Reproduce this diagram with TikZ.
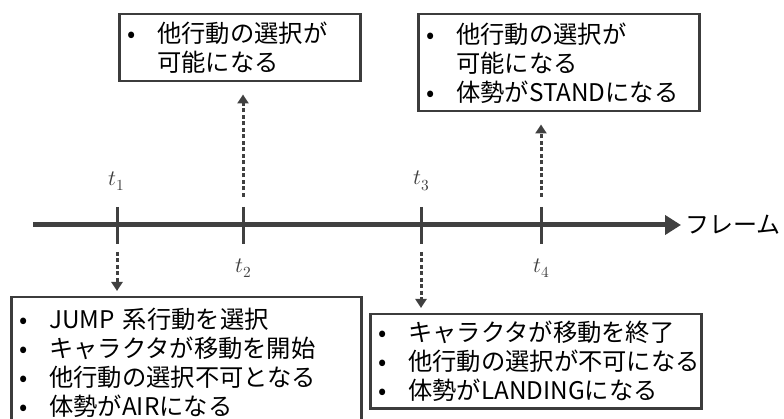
\documentclass[tikz,border=0pt]{standalone}
\usepackage{fontspec}
\usepackage{unicode-math}
\setmainfont{Noto Sans CJK JP}
\setmathfont{Latin Modern Math}
\usetikzlibrary{arrows.meta}
\definecolor{axisc}{HTML}{404040}
\definecolor{boxc}{HTML}{3C3C3C}
\newcommand{\bul}{\makebox[30pt][l]{•}}
\newcommand{\ind}{\hspace*{30pt}}
\begin{document}
\begin{tikzpicture}[x=1pt,y=-1pt,
  box/.style={draw=boxc, line width=2.5pt, anchor=north west, inner xsep=8pt, inner ysep=0pt,
    align=left, font=\fontsize{24.3}{29}\selectfont},
  tick/.style={draw=axisc, line width=3pt},
  dotarrow/.style={draw=axisc, line width=3pt, dash pattern=on 4pt off 2.5pt,
    -{Triangle[length=9pt,width=11pt]}},
  tlab/.style={font=\fontsize{22}{24}\selectfont, text=axisc, inner sep=0pt}]
\useasboundingbox (0,0) rectangle (784,419);
% axis
\coordinate (a0) at (33,225);
\coordinate (a1) at (681,225);
\draw[draw=axisc, line width=5pt, -{Triangle[length=16pt,width=19pt]}] (a0) -- (a1);
\node[anchor=west, font=\fontsize{24}{28}\selectfont, inner sep=0pt] (fr) at (685,225) {フレーム};
% ticks
\coordinate (t1a) at (117,207); \coordinate (t1b) at (117,244);
\coordinate (t2a) at (243,207); \coordinate (t2b) at (243,244);
\coordinate (t3a) at (421,207); \coordinate (t3b) at (421,244);
\coordinate (t4a) at (541,207); \coordinate (t4b) at (541,244);
\draw[tick] (t1a) -- (t1b);
\draw[tick] (t2a) -- (t2b);
\draw[tick] (t3a) -- (t3b);
\draw[tick] (t4a) -- (t4b);
\node[tlab] (l1) at (117,181) {$t_1$};
\node[tlab] (l2) at (244,268) {$t_2$};
\node[tlab] (l3) at (422,181) {$t_3$};
\node[tlab] (l4) at (542,268) {$t_4$};
% boxes
\node[box, text width=334pt, minimum height=131pt] (b1) at (10,296)
  {\bul JUMP 系行動を選択\\ \bul キャラクタが移動を開始\\ \bul 他行動の選択不可となる\\ \bul 体勢がAIRになる};
\node[box, text width=315pt, minimum height=94pt] (b3) at (369,313)
  {\bul キャラクタが移動を終了\\ \bul 他行動の選択が不可になる\\ \bul 体勢がLANDINGになる};
\node[box, text width=225pt, minimum height=67pt] (b2) at (118,13)
  {\bul 他行動の選択が\\ \ind 可能になる};
\node[box, text width=265pt, minimum height=97pt] (b4) at (417,13)
  {\bul 他行動の選択が\\ \ind 可能になる\\ \bul 体勢がSTANDになる};
% dotted arrows
\draw[dotarrow, shorten <=8pt, shorten >=5pt] (t1b) -- (t1b |- b1.north);
\draw[dotarrow, shorten <=8pt, shorten >=5pt] (t3b) -- (t3b |- b3.north);
\draw[dotarrow, shorten <=10pt, shorten >=12pt] (t2a) -- (t2a |- b2.south);
\draw[dotarrow, shorten <=10pt, shorten >=12pt] (t4a) -- (t4a |- b4.south);
\end{tikzpicture}
\end{document}
